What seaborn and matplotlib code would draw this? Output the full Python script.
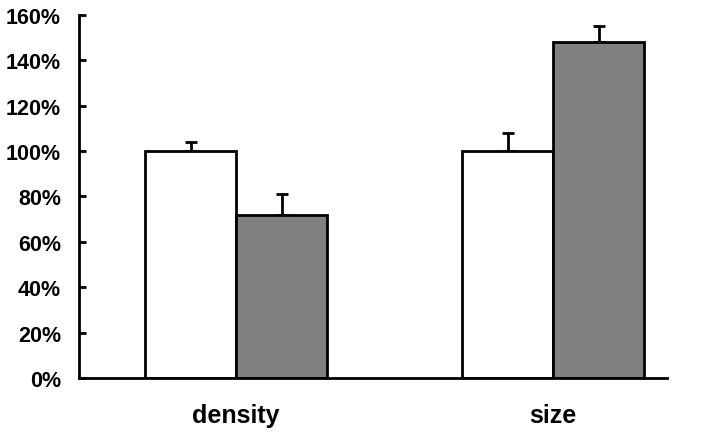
import numpy as np
import pandas as pd
import matplotlib
matplotlib.use("Agg")
import matplotlib.pyplot as plt
import seaborn as sns
from matplotlib.ticker import FuncFormatter

# values (percent of control)
categories = ["density", "size"]
conditions = ["control", "treated"]
control_vals = [100, 100]
treated_vals = [72, 148]
control_err = [4, 8]
treated_err = [9, 7]

sns.set_theme(style="white")
plt.rcParams['font.family'] = ['Liberation Sans', 'DejaVu Sans']
plt.rcParams.update({'text.color': 'black', 'xtick.color': 'black',
                     'ytick.color': 'black'})

df = pd.DataFrame({
    "category": categories * 2,
    "condition": [conditions[0]] * 2 + [conditions[1]] * 2,
    "value": control_vals + treated_vals,
    "err": control_err + treated_err,
})

fig = plt.figure(figsize=(7.19, 4.35), dpi=100)
ax = fig.add_axes([0.110, 0.129, 0.818, 0.834])

sns.barplot(data=df, x="category", y="value", hue="condition",
            order=categories, hue_order=conditions,
            palette={"control": "white", "treated": "#808080"},
            edgecolor="black", linewidth=2, width=0.574, errorbar=None,
            legend=False, ax=ax, zorder=2)

# upper-only error bars placed on the bar patches
for cond, patches in zip(conditions, ax.containers):
    sub = df[df["condition"] == cond].set_index("category").loc[categories]
    xs = [p.get_x() + p.get_width() / 2 for p in patches]
    errs = sub["err"].to_numpy()
    ax.errorbar(xs, sub["value"].to_numpy(), yerr=[np.zeros_like(errs), errs],
                fmt="none", ecolor="black", elinewidth=2, capsize=4.5,
                capthick=2, zorder=1)

ax.set_ylim(0, 160)
ax.set_yticks(np.arange(0, 161, 20))
ax.yaxis.set_major_formatter(FuncFormatter(lambda v, _: f"{v:.0f}%"))
ax.set_xlim(-0.495, 1.36)
ax.set_xlabel("")
ax.set_ylabel("")

for s in ["top", "right"]:
    ax.spines[s].set_visible(False)
for s in ["left", "bottom"]:
    ax.spines[s].set_linewidth(2)
    ax.spines[s].set_color("black")

ax.tick_params(axis="y", direction="in", length=5, width=2, left=True,
               labelsize=15.5, pad=13, labelcolor="black")
ax.tick_params(axis="x", length=0, labelsize=18, pad=18, labelcolor="black")
for lbl in ax.get_yticklabels() + ax.get_xticklabels():
    lbl.set_fontweight("bold")

fig.savefig("out.png", dpi=100)
